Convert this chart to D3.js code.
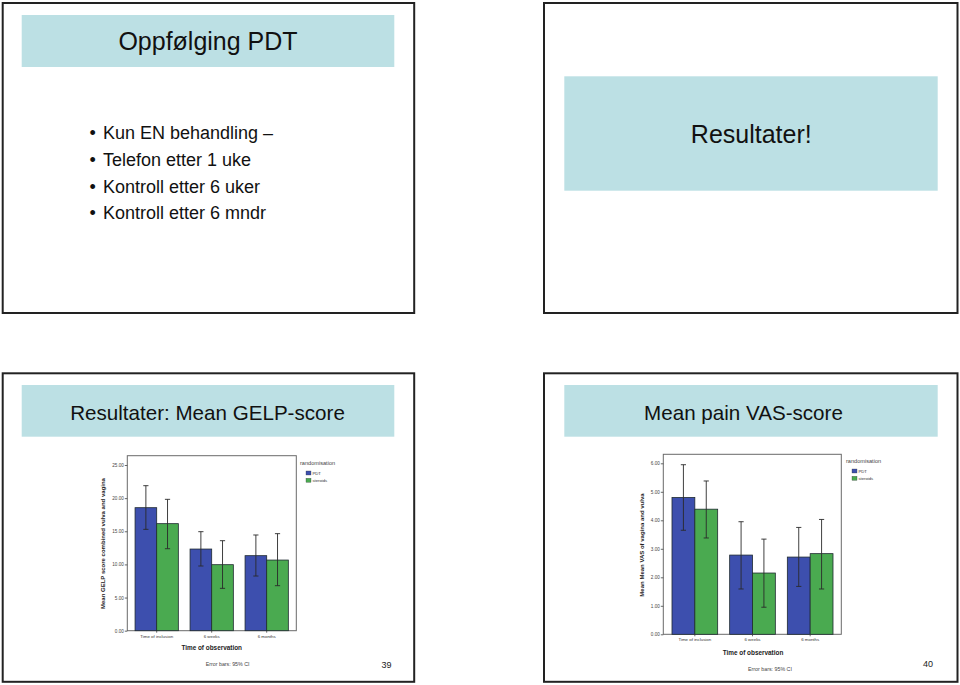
<!DOCTYPE html>
<html>
<head>
<meta charset="utf-8">
<script src="https://cdn.jsdelivr.net/npm/d3@7"></script>
<style>
  html, body { margin: 0; padding: 0; background: #fff; }
  svg { display: block; font-family: "Liberation Sans", Arial, sans-serif; }
</style>
</head>
<body>
<svg id="page" width="960" height="685"></svg>
<script>
// ---------- DATA ----------
const categories = ["Time of inclusion", "6 weeks", "6 months"];
const seriesNames = ["PDT", "steroids"];

const gelpPDT = [18.56, 12.32, 11.32];
const gelpPDTLow = [15.29, 9.76, 8.25];
const gelpPDTHigh = [21.88, 14.94, 14.44];
const gelpSteroids = [16.15, 9.96, 10.66];
const gelpSteroidsLow = [12.37, 6.39, 6.79];
const gelpSteroidsHigh = [19.82, 13.58, 14.64];
const gelpTicks = [0, 5, 10, 15, 20, 25];

const vasPDT = [4.80, 2.78, 2.71];
const vasPDTLow = [3.65, 1.59, 1.68];
const vasPDTHigh = [5.95, 3.95, 3.75];
const vasSteroids = [4.39, 2.15, 2.83];
const vasSteroidsLow = [3.38, 0.95, 1.59];
const vasSteroidsHigh = [5.38, 3.34, 4.03];
const vasTicks = [0, 1, 2, 3, 4, 5, 6];

const bulletItems = ["Kun EN behandling \u2013", "Telefon etter 1 uke", "Kontroll etter 6 uker", "Kontroll etter 6 mndr"];
const slideTitles = ["Oppf\u00f8lging PDT", "Resultater!", "Resultater: Mean GELP-score", "Mean pain VAS-score"];
const pageNumbers = ["39", "40"];
const seriesColors = ["#3d4fae", "#4aaa50"];

// ---------- PAGE ----------
const svg = d3.select("#page");
const BAND = "#bce0e4";

function frame(x, y, w, h) {
  svg.append("rect").attr("x", x).attr("y", y).attr("width", w).attr("height", h)
    .attr("fill", "#fff").attr("stroke", "#222").attr("stroke-width", 2);
}
function band(x, y, w, h) {
  svg.append("rect").attr("x", x).attr("y", y).attr("width", w).attr("height", h).attr("fill", BAND);
}
function title(t, x, y, size) {
  svg.append("text").attr("x", x).attr("y", y).attr("text-anchor", "middle")
    .attr("font-size", size).attr("fill", "#111").text(t);
}

// slide 1
frame(2.7, 3, 411.5, 310);
band(21.7, 15, 372.6, 52);
title(slideTitles[0], 208, 50, 25);
bulletItems.forEach((t, i) => {
  const yb = 139.3 + i * 26.7;
  svg.append("text").attr("x", 89.5).attr("y", yb).attr("font-size", 18).attr("fill", "#111").text("\u2022");
  svg.append("text").attr("x", 103).attr("y", yb).attr("font-size", 18).attr("fill", "#111").text(t);
});

// slide 2
frame(544, 3, 413.5, 310);
band(564.3, 76.3, 373.4, 114.4);
title(slideTitles[1], 751.3, 143.3, 25);

// slide 3 & 4
frame(2.7, 373.3, 411.5, 308.5);
band(21.7, 385, 372.6, 51.7);
title(slideTitles[2], 207.5, 420, 20.6);
frame(544, 373.3, 413.5, 308.5);
band(564.3, 385, 373.4, 51.7);
title(slideTitles[3], 743.5, 420, 20.6);

// ---------- CHARTS ----------
function drawChart(cfg) {
  const g = svg.append("g");
  const y = d3.scaleLinear().domain([0, cfg.ticks[cfg.ticks.length - 1]]).range([cfg.y0, cfg.yTop]);
  const x = d3.scaleBand().domain(categories).range(cfg.xRange).paddingInner(cfg.pad).paddingOuter(cfg.pad / 2);
  const xs = d3.scaleBand().domain(seriesNames).range([0, x.bandwidth()]);

  // plot box
  g.append("rect").attr("x", cfg.box[0]).attr("y", cfg.box[1])
    .attr("width", cfg.box[2] - cfg.box[0]).attr("height", cfg.box[3] - cfg.box[1])
    .attr("fill", "#fff").attr("stroke", "#6a6a6a").attr("stroke-width", 1);

  const series = [
    { name: seriesNames[0], v: cfg.a, lo: cfg.aLo, hi: cfg.aHi, c: seriesColors[0] },
    { name: seriesNames[1], v: cfg.b, lo: cfg.bLo, hi: cfg.bHi, c: seriesColors[1] }
  ];
  series.forEach(s => {
    categories.forEach((cat, i) => {
      const bx = x(cat) + xs(s.name);
      g.append("rect").attr("x", bx).attr("y", y(s.v[i]))
        .attr("width", xs.bandwidth()).attr("height", y(0) - y(s.v[i]))
        .attr("fill", s.c).attr("stroke", "#1f2a30").attr("stroke-width", 0.8);
    });
  });
  series.forEach(s => {
    categories.forEach((cat, i) => {
      const cx = x(cat) + xs(s.name) + xs.bandwidth() / 2;
      const eb = g.append("g").attr("stroke", "#2a2a2a").attr("stroke-width", 0.9);
      eb.append("line").attr("x1", cx).attr("x2", cx).attr("y1", y(s.lo[i])).attr("y2", y(s.hi[i]));
      [s.lo[i], s.hi[i]].forEach(v => {
        eb.append("line").attr("x1", cx - 2.6).attr("x2", cx + 2.6).attr("y1", y(v)).attr("y2", y(v));
      });
    });
  });

  // y axis
  const ax = g.append("g").attr("transform", `translate(${cfg.box[0]},0)`)
    .call(d3.axisLeft(y).tickValues(cfg.ticks).tickSize(2.5).tickPadding(1).tickFormat(d3.format(".2f")));
  ax.select(".domain").remove();
  ax.selectAll("line").attr("stroke", "#444").attr("stroke-width", 0.8);
  ax.selectAll("text").attr("font-size", 4.6).attr("fill", "#444").attr("font-family", "Liberation Sans, Arial, sans-serif");

  // x axis
  const axb = g.append("g").attr("transform", `translate(0,${cfg.box[3]})`)
    .call(d3.axisBottom(x).tickSize(2).tickPadding(2));
  axb.select(".domain").remove();
  axb.selectAll("line").attr("stroke", "#444").attr("stroke-width", 0.8);
  axb.selectAll("text").attr("font-size", 4.4).attr("fill", "#333").attr("font-family", "Liberation Sans, Arial, sans-serif");

  // titles
  g.append("text").attr("x", cfg.xTitle[0]).attr("y", cfg.xTitle[1]).attr("text-anchor", "middle")
    .attr("font-size", 6.4).attr("font-weight", "bold").attr("fill", "#222").text("Time of observation");
  g.append("text").attr("transform", `translate(${cfg.yTitle[0]},${cfg.yTitle[1]}) rotate(-90)`)
    .attr("text-anchor", "middle").attr("font-size", 6).attr("font-weight", "bold").attr("fill", "#222").text(cfg.yLabel);
  g.append("text").attr("x", cfg.err[0]).attr("y", cfg.err[1])
    .attr("font-size", 5.3).attr("fill", "#444").text("Error bars: 95% CI");

  // legend
  const lg = g.append("g").attr("transform", `translate(${cfg.leg[0]},${cfg.leg[1]})`);
  lg.append("text").attr("x", 0).attr("y", 0).attr("font-size", 5.6).attr("fill", "#444").text("randomisation");
  series.forEach((s, i) => {
    lg.append("rect").attr("x", 6).attr("y", 6.5 + i * 7.3).attr("width", 5).attr("height", 4)
      .attr("fill", s.c).attr("stroke", "#333").attr("stroke-width", 0.3);
    lg.append("text").attr("x", 12.5).attr("y", 10.3 + i * 7.3).attr("font-size", 4.2).attr("fill", "#333").text(s.name);
  });

  svg.append("text").attr("x", cfg.num[0]).attr("y", cfg.num[1]).attr("text-anchor", "middle")
    .attr("font-size", 9).attr("fill", "#222").text(cfg.numText);
}

drawChart({
  ticks: gelpTicks, y0: 630.7, yTop: 465,
  xRange: [129.2, 294.2], pad: 0.213,
  box: [127.3, 455.7, 296.3, 630.7],
  a: gelpPDT, aLo: gelpPDTLow, aHi: gelpPDTHigh,
  b: gelpSteroids, bLo: gelpSteroidsLow, bHi: gelpSteroidsHigh,
  xTitle: [211.7, 650], yTitle: [105.3, 543.5],
  yLabel: "Mean GELP score combined vulva and vagina",
  err: [205.7, 665.5], leg: [300, 464.5],
  num: [386.5, 667.5], numText: pageNumbers[0]
});

drawChart({
  ticks: vasTicks, y0: 634.3, yTop: 463.3,
  xRange: [666, 839], pad: 0.208,
  box: [663.3, 454.3, 841.3, 634.3],
  a: vasPDT, aLo: vasPDTLow, aHi: vasPDTHigh,
  b: vasSteroids, bLo: vasSteroidsLow, bHi: vasSteroidsHigh,
  xTitle: [753, 654.5], yTitle: [643.5, 545],
  yLabel: "Mean Mean VAS of vagina and vulva",
  err: [748, 671], leg: [846, 462.5],
  num: [928, 667], numText: pageNumbers[1]
});
</script>
</body>
</html>
